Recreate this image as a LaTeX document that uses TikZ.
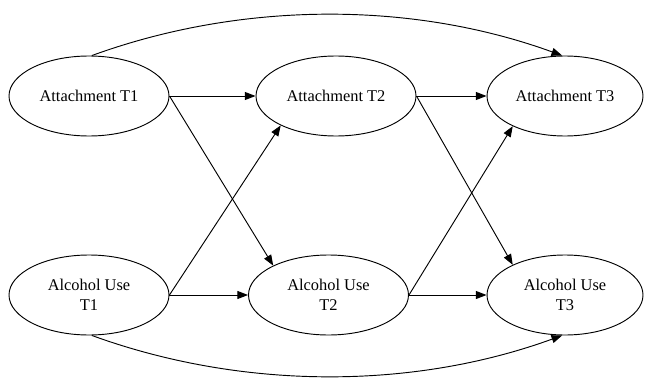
\documentclass[tikz,border=0pt]{standalone}
\usepackage{fontspec}
\setmainfont{Liberation Serif}
\usetikzlibrary{arrows.meta,shapes.geometric}

\begin{document}
\begin{tikzpicture}[x=0.75pt,y=0.75pt,
  var/.style={ellipse,draw,line width=0.7pt,inner sep=0pt,
    minimum width=120pt,minimum height=60pt,align=center,
    font=\fontsize{12.3}{15}\selectfont},
  link/.style={-{Triangle[length=8pt,width=6pt]},line width=0.7pt}]

\useasboundingbox (0,0) rectangle (645,379);

% attachment row
\node[var] (att1) at (89,283) {Attachment T1};
\node[var] (att2) at (336,283) {Attachment T2};
\node[var,minimum width=117pt] (att3) at (565,283) {Attachment T3};

% alcohol row
\node[var] (alc1) at (89,84) {Alcohol Use\\T1};
\node[var] (alc2) at (328.5,84) {Alcohol Use\\T2};
\node[var,minimum width=117pt] (alc3) at (565,84) {Alcohol Use\\T3};

\draw[link] (att1.east) -- (att2.west);
\draw[link] (att1.east) -- (alc2.152);
\draw[link] (alc1.east) -- (att2.208);
\draw[link] (alc1.east) -- (alc2.west);

\draw[link] (att2.east) -- (att3.west);
\draw[link] (att2.east) -- (alc3.150);
\draw[link] (alc2.east) -- (att3.210);
\draw[link] (alc2.east) -- (alc3.west);

\draw[link] (att1.86) to[out=20,in=160,looseness=0.87] (att3.94);
\draw[link] (alc1.-86) to[out=-20,in=200,looseness=0.87] (alc3.-94);

\end{tikzpicture}
\end{document}
